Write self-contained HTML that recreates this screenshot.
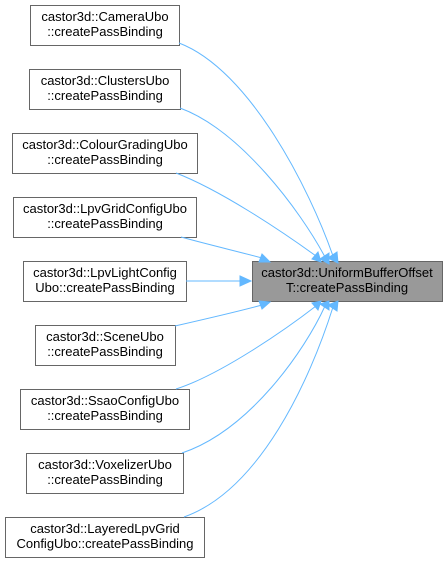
<!DOCTYPE html>
<html><head><style>
body{margin:0;background:#fff;width:448px;height:563px;overflow:hidden}
svg{position:absolute;left:0;top:0}
text{font-family:"Liberation Sans",Arial,sans-serif;font-size:13px;fill:#000}
</style></head><body>
<svg width="448" height="563" viewBox="0 0 448 563">
<g fill="#fff" stroke="#666" stroke-width="1">
<rect x="30.5" y="5.5" width="149" height="40"/>
<rect x="29.5" y="69.5" width="151" height="40"/>
<rect x="12.5" y="133.5" width="185" height="40"/>
<rect x="13.5" y="197.5" width="183" height="40"/>
<rect x="23.5" y="261.5" width="163" height="40"/>
<rect x="35.5" y="325.5" width="140" height="40"/>
<rect x="20.5" y="389.5" width="169" height="40"/>
<rect x="26.5" y="453.5" width="157" height="40"/>
<rect x="5.5" y="517.5" width="199" height="40"/>
<rect x="252.5" y="261.5" width="190" height="40" fill="#999"/>
</g>
<g text-anchor="middle">
<text x="105" y="21">castor3d::CameraUbo</text><text x="105" y="36">::createPassBinding</text>
<text x="105" y="85">castor3d::ClustersUbo</text><text x="105" y="100">::createPassBinding</text>
<text x="105" y="149">castor3d::ColourGradingUbo</text><text x="105" y="164">::createPassBinding</text>
<text x="105" y="213">castor3d::LpvGridConfigUbo</text><text x="105" y="228">::createPassBinding</text>
<text x="105" y="277">castor3d::LpvLightConfig</text><text x="105" y="292">Ubo::createPassBinding</text>
<text x="105" y="341">castor3d::SceneUbo</text><text x="105" y="356">::createPassBinding</text>
<text x="105" y="405">castor3d::SsaoConfigUbo</text><text x="105" y="420">::createPassBinding</text>
<text x="105" y="469">castor3d::VoxelizerUbo</text><text x="105" y="484">::createPassBinding</text>
<text x="105" y="533">castor3d::LayeredLpvGrid</text><text x="105" y="548">ConfigUbo::createPassBinding</text>
<text x="347" y="277">castor3d::UniformBufferOffset</text><text x="347" y="292">T::createPassBinding</text>
</g>
<g fill="none" stroke="#63b8ff" stroke-width="1">
<path d="M179,43 C250,70 310,190 333,256"/>
<path d="M180,108 C240,130 300,210 325,257"/>
<path d="M176,173 C220,190 280,230 316,256"/>
<path d="M181,237 C210,245 240,252 262,258"/>
<path d="M186,281 L240,281"/>
<path d="M175,326 C210,318 240,311 262,305"/>
<path d="M176,389 C220,375 285,330 316,306"/>
<path d="M182,453 C250,430 305,350 325,306"/>
<path d="M184,517 C260,490 310,380 333,307"/>
</g>
<g fill="#63b8ff" stroke="#63b8ff">
<polygon points="328,258 338,263 337,252"/>
<polygon points="320,259 329,264 329,253"/>
<polygon points="312,259 321,262 318,252"/>
<polygon points="259,262 270,262 262,254"/>
<polygon points="240,276 251,281 240,286"/>
<polygon points="259,301 270,302 262,309"/>
<polygon points="312,303 321,301 318,310"/>
<polygon points="320,304 329,301 329,310"/>
<polygon points="328,305 338,301 337,311"/>
</g>
</svg>
</body></html>
